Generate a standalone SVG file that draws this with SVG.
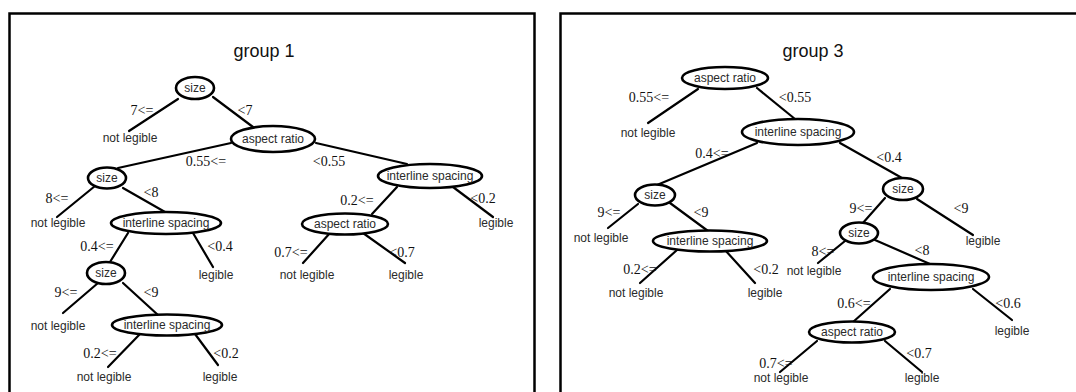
<svg xmlns="http://www.w3.org/2000/svg" width="1076" height="392" viewBox="0 0 1076 392">
<style>
.panel{fill:none;stroke:#000;stroke-width:2.5}
.title{font-family:"Liberation Sans",Arial,sans-serif;font-size:18px;fill:#111;text-anchor:middle}
.edges line{stroke:#000;stroke-width:2.2;stroke-linecap:round}
.node ellipse{fill:#fff;stroke:#000;stroke-width:2.6}
.nl{font-family:"Liberation Sans",Arial,sans-serif;font-size:12px;fill:#2a2a2a;text-anchor:middle}
.leaf{font-family:"Liberation Sans",Arial,sans-serif;font-size:12px;fill:#2a2a2a;text-anchor:middle}
.cond{font-family:"Liberation Serif","Times New Roman",serif;font-size:14px;fill:#111;text-anchor:middle}
</style>
<rect class="panel" x="9.5" y="13.5" width="525" height="400"/>
<rect class="panel" x="560.5" y="13.5" width="530" height="400"/>
<text class="title" x="264" y="57">group 1</text>
<text class="title" x="813" y="57">group 3</text>

<g id="connectors" class="edges">
<line x1="178" y1="99" x2="129" y2="131"/>
<line x1="213" y1="97" x2="253" y2="127"/>
<line x1="231" y1="143" x2="118" y2="168"/>
<line x1="316" y1="143" x2="407" y2="164"/>
<line x1="95" y1="186" x2="57" y2="217"/>
<line x1="123" y1="188" x2="165" y2="212"/>
<line x1="128" y1="233" x2="110" y2="262"/>
<line x1="193" y1="233" x2="213" y2="267"/>
<line x1="98" y1="283" x2="63" y2="313"/>
<line x1="123" y1="283" x2="158" y2="315"/>
<line x1="140" y1="334" x2="108" y2="367"/>
<line x1="195" y1="334" x2="218" y2="365"/>
<line x1="397" y1="187" x2="372" y2="214"/>
<line x1="453" y1="187" x2="493" y2="217"/>
<line x1="330" y1="233" x2="303" y2="263"/>
<line x1="363" y1="233" x2="405" y2="263"/>

<line x1="698" y1="89" x2="648" y2="123"/>
<line x1="757" y1="88" x2="795" y2="119"/>
<line x1="757" y1="143" x2="657" y2="185"/>
<line x1="840" y1="143" x2="902" y2="178"/>
<line x1="638" y1="204" x2="608" y2="228"/>
<line x1="670" y1="203" x2="708" y2="231"/>
<line x1="677" y1="250" x2="640" y2="283"/>
<line x1="725" y1="250" x2="755" y2="283"/>
<line x1="885" y1="198" x2="862" y2="224"/>
<line x1="917" y1="199" x2="973" y2="235"/>
<line x1="845" y1="241" x2="818" y2="263"/>
<line x1="875" y1="240" x2="930" y2="264"/>
<line x1="890" y1="289" x2="853" y2="322"/>
<line x1="973" y1="289" x2="1012" y2="320"/>
<line x1="817" y1="341" x2="780" y2="372"/>
<line x1="885" y1="341" x2="922" y2="372"/>
</g>

<g id="edge-labels">
<text class="cond" x="142" y="115">7&lt;=</text>
<text class="cond" x="245" y="115">&lt;7</text>
<text class="cond" x="206" y="166">0.55&lt;=</text>
<text class="cond" x="329" y="166">&lt;0.55</text>
<text class="cond" x="57" y="203">8&lt;=</text>
<text class="cond" x="151" y="197">&lt;8</text>
<text class="cond" x="97" y="251">0.4&lt;=</text>
<text class="cond" x="220" y="251">&lt;0.4</text>
<text class="cond" x="66" y="297">9&lt;=</text>
<text class="cond" x="151" y="297">&lt;9</text>
<text class="cond" x="100" y="358">0.2&lt;=</text>
<text class="cond" x="226" y="358">&lt;0.2</text>
<text class="cond" x="357" y="205">0.2&lt;=</text>
<text class="cond" x="483" y="203">&lt;0.2</text>
<text class="cond" x="291" y="257">0.7&lt;=</text>
<text class="cond" x="402" y="257">&lt;0.7</text>

<text class="cond" x="649" y="102">0.55&lt;=</text>
<text class="cond" x="795" y="102">&lt;0.55</text>
<text class="cond" x="712" y="158">0.4&lt;=</text>
<text class="cond" x="889" y="162">&lt;0.4</text>
<text class="cond" x="609" y="217">9&lt;=</text>
<text class="cond" x="701" y="217">&lt;9</text>
<text class="cond" x="640" y="274">0.2&lt;=</text>
<text class="cond" x="766" y="274">&lt;0.2</text>
<text class="cond" x="861" y="213">9&lt;=</text>
<text class="cond" x="961" y="213">&lt;9</text>
<text class="cond" x="823" y="256">8&lt;=</text>
<text class="cond" x="922" y="255">&lt;8</text>
<text class="cond" x="854" y="308">0.6&lt;=</text>
<text class="cond" x="1008" y="308">&lt;0.6</text>
<text class="cond" x="776" y="368">0.7&lt;=</text>
<text class="cond" x="919" y="358">&lt;0.7</text>
</g>

<g id="leaves">
<text class="leaf" x="130" y="142">not legible</text>
<text class="leaf" x="58" y="227">not legible</text>
<text class="leaf" x="216" y="279">legible</text>
<text class="leaf" x="58" y="330">not legible</text>
<text class="leaf" x="104" y="381">not legible</text>
<text class="leaf" x="220" y="381">legible</text>
<text class="leaf" x="496" y="227">legible</text>
<text class="leaf" x="307" y="279">not legible</text>
<text class="leaf" x="406" y="279">legible</text>

<text class="leaf" x="648" y="137">not legible</text>
<text class="leaf" x="601" y="242">not legible</text>
<text class="leaf" x="636" y="297">not legible</text>
<text class="leaf" x="765" y="297">legible</text>
<text class="leaf" x="983" y="245">legible</text>
<text class="leaf" x="814" y="275">not legible</text>
<text class="leaf" x="1012" y="335">legible</text>
<text class="leaf" x="781" y="382">not legible</text>
<text class="leaf" x="922" y="382">legible</text>
</g>

<g id="g1-n1" class="node"><ellipse cx="195" cy="88" rx="19" ry="11"/><text class="nl" x="195" y="92">size</text></g>
<g id="g1-n2" class="node"><ellipse cx="273" cy="139" rx="42" ry="13"/><text class="nl" x="273" y="143">aspect ratio</text></g>
<g id="g1-n3" class="node"><ellipse cx="107" cy="178" rx="19" ry="10.5"/><text class="nl" x="107" y="182">size</text></g>
<g id="g1-n4" class="node"><ellipse cx="430" cy="176" rx="52" ry="12"/><text class="nl" x="430" y="180">interline spacing</text></g>
<g id="g1-n5" class="node"><ellipse cx="166" cy="223" rx="55" ry="11"/><text class="nl" x="166" y="227">interline spacing</text></g>
<g id="g1-n6" class="node"><ellipse cx="106" cy="273" rx="19" ry="11"/><text class="nl" x="106" y="277">size</text></g>
<g id="g1-n7" class="node"><ellipse cx="167" cy="325" rx="55" ry="10.5"/><text class="nl" x="167" y="329">interline spacing</text></g>
<g id="g1-n8" class="node"><ellipse cx="345" cy="224" rx="43" ry="10.5"/><text class="nl" x="345" y="228">aspect ratio</text></g>

<g id="g3-n1" class="node"><ellipse cx="725" cy="78" rx="43" ry="11"/><text class="nl" x="725" y="82">aspect ratio</text></g>
<g id="g3-n2" class="node"><ellipse cx="798" cy="132" rx="56" ry="13"/><text class="nl" x="798" y="136">interline spacing</text></g>
<g id="g3-n3" class="node"><ellipse cx="655" cy="195" rx="20" ry="10.5"/><text class="nl" x="655" y="199">size</text></g>
<g id="g3-n4" class="node"><ellipse cx="903" cy="189" rx="20" ry="11"/><text class="nl" x="903" y="193">size</text></g>
<g id="g3-n5" class="node"><ellipse cx="710" cy="241" rx="57" ry="10.5"/><text class="nl" x="710" y="245">interline spacing</text></g>
<g id="g3-n6" class="node"><ellipse cx="859" cy="233" rx="19" ry="10.5"/><text class="nl" x="859" y="237">size</text></g>
<g id="g3-n7" class="node"><ellipse cx="931" cy="277" rx="58" ry="13"/><text class="nl" x="931" y="281">interline spacing</text></g>
<g id="g3-n8" class="node"><ellipse cx="852" cy="332" rx="43" ry="10.5"/><text class="nl" x="852" y="336">aspect ratio</text></g>
</svg>
